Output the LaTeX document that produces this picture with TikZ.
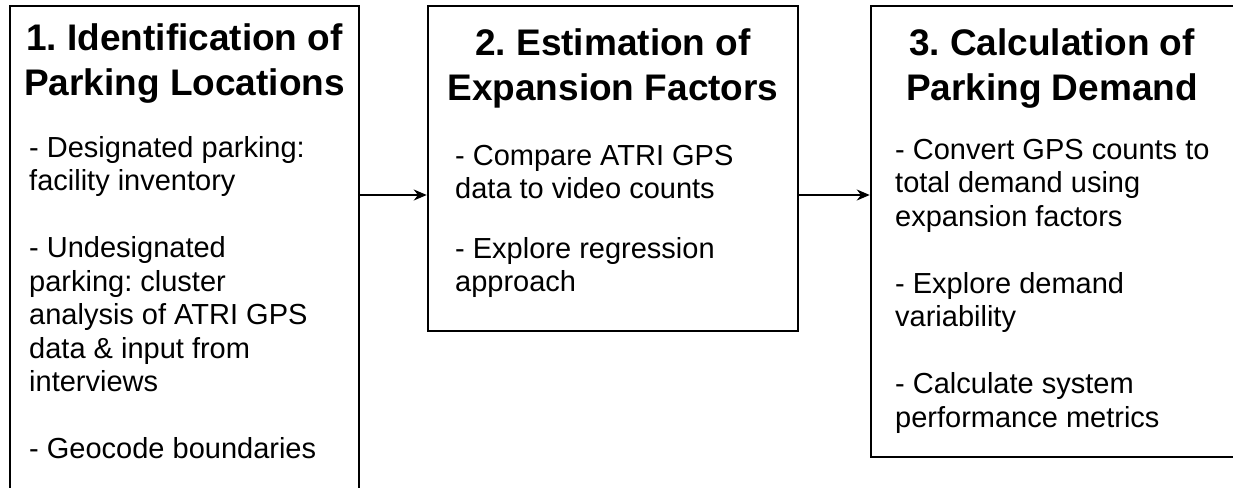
\documentclass[tikz,border=0pt]{standalone}
\usepackage{fontspec}
\setmainfont{Liberation Sans}
\usetikzlibrary{arrows.meta}
\frenchspacing
\begin{document}
\begin{tikzpicture}[x=1pt,y=-1pt,
  panel/.style={draw=black, line width=2.5pt, fill=white, rectangle, inner sep=0pt},
  heading/.style={anchor=north, inner sep=0pt, align=center,
    font=\bfseries\fontsize{37}{45}\selectfont},
  bullets/.style={anchor=north west, inner sep=0pt, align=left,
    font=\fontsize{29}{33.5}\selectfont},
  flow/.style={line width=2.2pt, -{Stealth[length=13pt,width=11pt]}}]
\useasboundingbox (0,0) rectangle (1233,487);
\clip (0,0) rectangle (1233,487);

% the three stage boxes (first runs off the bottom, last off the right)
\node[panel, minimum width=349pt, minimum height=504pt] (b1) at (184.5,258) {};
\node[panel, minimum width=370pt, minimum height=325pt] (b2) at (613,168.5) {};
\node[panel, minimum width=366pt, minimum height=451pt] (b3) at (1054,231.5) {};

% headings
\node[heading] (h1) at (184.5,23) {1. Identification of\\Parking Locations};
\node[heading] (h2) at (613,28) {2. Estimation of\\Expansion Factors};
\node[heading] (h3) at (1052,28) {3. Calculation of\\Parking Demand};

% bullet texts
\node[bullets] (t1) at (29,136) {- Designated parking:\\facility inventory\\[33.5pt]
  - Undesignated\\parking: cluster\\analysis of ATRI GPS\\data \& input from\\interviews\\[33.5pt]
  - Geocode boundaries};
\node[bullets] (t2) at (455,145) {- Compare ATRI GPS\\data to video counts\\[26pt]
  - Explore regression\\approach};
\node[bullets] (t3) at (895,139) {- Convert GPS counts to\\total demand using\\expansion factors\\[33.5pt]
  - Explore demand\\variability\\[33.5pt]
  - Calculate system\\performance metrics};

% connectors
\coordinate (row) at (0,195);
\draw[flow] (b1.east |- row) -- (b2.west |- row);
\draw[flow] (b2.east |- row) -- (b3.west |- row);
\end{tikzpicture}
\end{document}
